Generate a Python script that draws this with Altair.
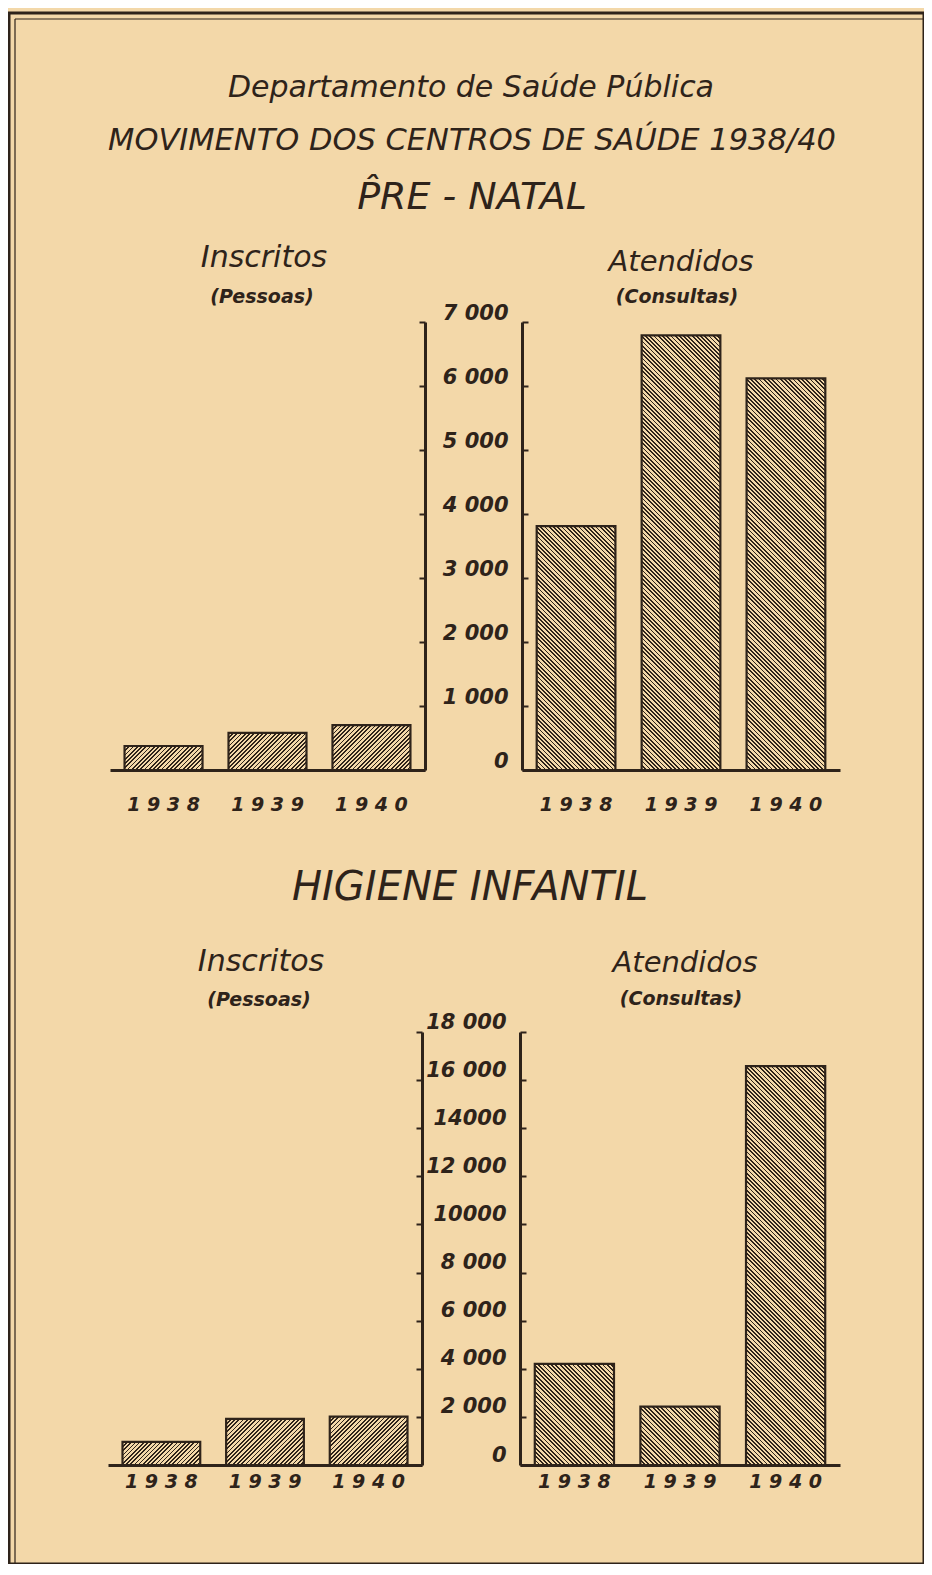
import math
import altair as alt
import pandas as pd

# ---------------- data ----------------
YEARS = ["1938", "1939", "1940"]
PRE_INSCRITOS = [375, 580, 700]          # Pré-natal, inscritos (pessoas)
PRE_ATENDIDOS = [3810, 6790, 6120]       # Pré-natal, atendidos (consultas)
HIG_INSCRITOS = [960, 1920, 2010]        # Higiene infantil, inscritos
HIG_ATENDIDOS = [4200, 2430, 16580]      # Higiene infantil, atendidos

PRE_TICKS = [0, 1000, 2000, 3000, 4000, 5000, 6000, 7000]
PRE_TICK_LABELS = ["0", "1 000", "2 000", "3 000", "4 000", "5 000", "6 000", "7 000"]
HIG_TICKS = [0, 2000, 4000, 6000, 8000, 10000, 12000, 14000, 16000, 18000]
HIG_TICK_LABELS = ["0", "2 000", "4 000", "6 000", "8 000", "10000", "12 000", "14000", "16 000", "18 000"]

TITLE_1 = "Departamento de Saúde Pública"
TITLE_2 = "MOVIMENTO DOS CENTROS DE SAÚDE 1938/40"
SECTION_1 = "P\u0302RE - NATAL"
SECTION_2 = "HIGIENE INFANTIL"
LEFT_TITLE = "Inscritos"
LEFT_SUB = "(Pessoas)"
RIGHT_TITLE = "Atendidos"
RIGHT_SUB = "(Consultas)"

# ---------------- styling / layout ----------------
PAPER = "#f3d8a9"
INK = "#2e231a"
FONT = "DejaVu Sans"

W, H = 915, 1551          # plot area (the frame)
OX, OY = 9, 13            # page position of the plot area


def px(x):
    return x - OX


def py(y):
    return y - OY


P_IN, P_OUT = 0.25, 0.14


def hatch(w, h, direction, period=3.0, duty=0.42):
    k = (w + h) / (w * w + h * h)
    n = max(1, int(round((w + h) / (math.sqrt(2) * period))))
    stops = []
    for i in range(n):
        a = round(i / n, 5)
        b = round((i + duty) / n, 5)
        c = round((i + 1) / n, 5)
        stops += [
            {"offset": a, "color": INK},
            {"offset": b, "color": INK},
            {"offset": b, "color": PAPER},
            {"offset": c, "color": PAPER},
        ]
    if direction == "/":
        x1, y1, x2, y2 = 0, 0, w * k, h * k
    else:
        x1, y1, x2, y2 = 0, 1, w * k, 1 - h * k
    return {"gradient": "linear", "x1": x1, "y1": y1, "x2": x2, "y2": y2, "stops": stops}


def label_expr(ticks, labels):
    expr = "''"
    for t, l in zip(reversed(ticks), reversed(labels)):
        expr = f"datum.value == {t} ? '{l}' : ({expr})"
    return expr


def panel(values, ymax, ticks, tick_labels, band, ybase, ytop, side, axis_x,
          direction, xlab_pad, ylab_off):
    df = pd.DataFrame({"year": YEARS, "value": values})
    r0, r1 = px(band[0]), px(band[1])
    step = (r1 - r0) / (len(YEARS) - P_IN + 2 * P_OUT)
    bw = step * (1 - P_IN)
    ylen = ybase - ytop
    grads = [hatch(bw, v / ymax * ylen, direction) for v in values]
    fill = (
        alt.when(alt.datum.year == YEARS[0]).then(alt.value(grads[0]))
        .when(alt.datum.year == YEARS[1]).then(alt.value(grads[1]))
        .otherwise(alt.value(grads[2]))
    )
    if side == "left":
        yoffset = -px(axis_x)
        yaxis = alt.Axis(orient="left", offset=yoffset, values=ticks, labels=False,
                         tickSize=6, tickWidth=2, tickColor=INK, domainColor=INK,
                         domainWidth=3, grid=False, title=None, zindex=2)
    else:
        yoffset = px(axis_x) - W
        yaxis = alt.Axis(orient="right", offset=yoffset, values=ticks, labels=True,
                         labelExpr=label_expr(ticks, tick_labels),
                         labelAlign="right", labelPadding=-20, labelOffset=ylab_off,
                         labelFont=FONT, labelFontSize=21, labelFontStyle="italic",
                         labelFontWeight="bold", labelColor=INK,
                         tickSize=6, tickWidth=2, tickColor=INK, domainColor=INK,
                         domainWidth=3, grid=False, title=None, zindex=2)
    xaxis = alt.Axis(orient="bottom", offset=py(ybase) - H, ticks=False,
                     domainColor=INK, domainWidth=3, labelAngle=0,
                     labelExpr="join(split(datum.label, ''), ' ')",
                     labelPadding=xlab_pad, labelFont=FONT, labelFontSize=19,
                     labelFontStyle="italic", labelFontWeight="bold",
                     labelColor=INK, title=None, grid=False, zindex=2)
    return alt.Chart(df).mark_bar(stroke=INK, strokeWidth=2.2).encode(
        x=alt.X("year:N", sort=YEARS,
                scale=alt.Scale(domain=YEARS, range=[r0, r1],
                                paddingInner=P_IN, paddingOuter=P_OUT),
                axis=xaxis),
        y=alt.Y("value:Q",
                scale=alt.Scale(domain=[0, ymax], range=[py(ybase), py(ytop)],
                                nice=False, zero=True),
                axis=yaxis),
        fill=fill,
    )


def text(t, x, y, size, weight="normal", style="italic"):
    return alt.Chart(pd.DataFrame({"t": [t]})).mark_text(
        font=FONT, fontSize=size, fontWeight=weight, fontStyle=style,
        color=INK, align="center", baseline="middle",
    ).encode(text="t:N", x=alt.value(px(x)), y=alt.value(py(y)))


# thin inner line of the double frame (top and left edges)
frame_df = pd.DataFrame({"k": [0]})
inner_left = alt.Chart(frame_df).mark_rule(color=INK, strokeWidth=1.2).encode(
    x=alt.value(6), y=alt.value(6), y2=alt.value(H))
inner_top = alt.Chart(frame_df).mark_rule(color=INK, strokeWidth=1.2).encode(
    y=alt.value(6), x=alt.value(6), x2=alt.value(W))

layers = [
    inner_left,
    inner_top,
    panel(PRE_INSCRITOS, 7000, PRE_TICKS, PRE_TICK_LABELS, (110, 425), 770, 322,
          "left", 425, "/", 25, -9),
    panel(PRE_ATENDIDOS, 7000, PRE_TICKS, PRE_TICK_LABELS, (522, 840), 770, 322,
          "right", 522, "\\", 25, -9),
    panel(HIG_INSCRITOS, 18000, HIG_TICKS, HIG_TICK_LABELS, (108, 422), 1465, 1032,
          "left", 422, "/", 7, -10),
    panel(HIG_ATENDIDOS, 18000, HIG_TICKS, HIG_TICK_LABELS, (520, 840), 1465, 1032,
          "right", 520, "\\", 7, -10),
    text(TITLE_1, 471, 88, 30),
    text(TITLE_2, 472, 141, 30.5),
    text(SECTION_1, 472, 198, 38),
    text(LEFT_TITLE, 264, 258, 30),
    text(LEFT_SUB, 262, 297, 19, weight="bold"),
    text(RIGHT_TITLE, 681, 262, 29),
    text(RIGHT_SUB, 677, 297, 19, weight="bold"),
    text(SECTION_2, 470, 888, 40),
    text(LEFT_TITLE, 261, 962, 30),
    text(LEFT_SUB, 259, 1000, 19, weight="bold"),
    text(RIGHT_TITLE, 685, 963, 29),
    text(RIGHT_SUB, 681, 999, 19, weight="bold"),
]

chart = (
    alt.layer(*layers)
    .resolve_scale(x="independent", y="independent")
    .properties(
        width=W,
        height=H,
        padding={"left": 1, "top": 5, "right": 0, "bottom": 0},
        autosize=alt.AutoSizeParams(type="none"),
        background=PAPER,
    )
    .configure_view(stroke=INK, strokeWidth=3)
)

chart.save("out.html", embed_options={"renderer": "svg", "actions": False})
